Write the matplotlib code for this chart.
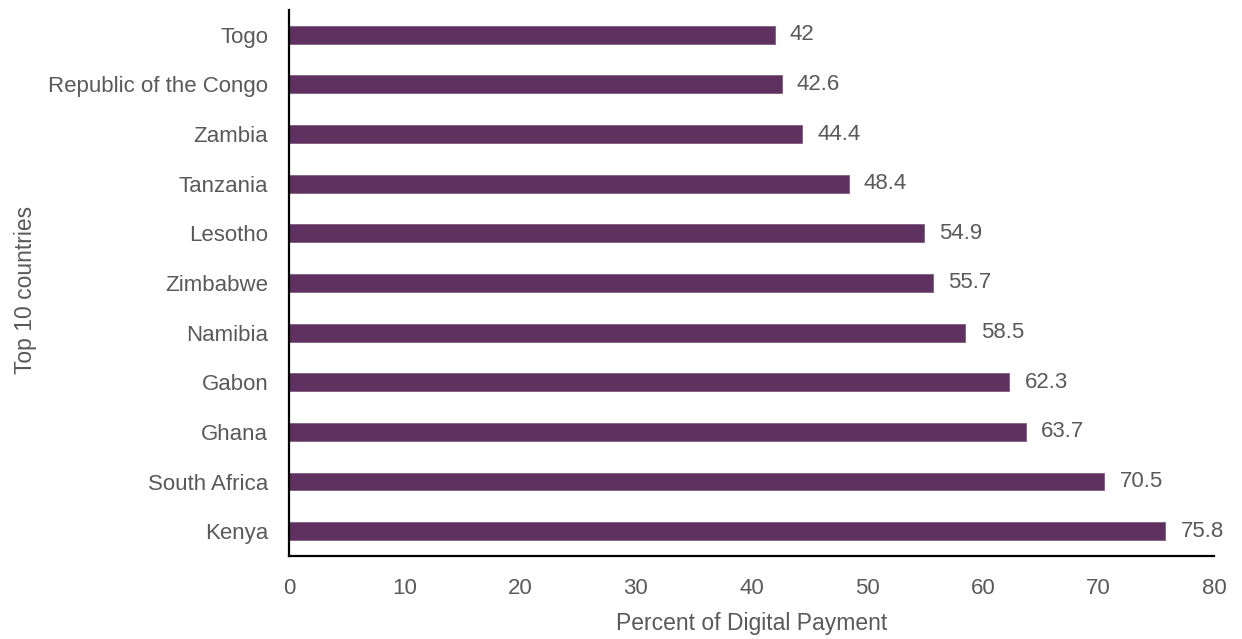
import matplotlib
matplotlib.use("Agg")
import matplotlib.pyplot as plt

countries = ["Kenya", "South Africa", "Ghana", "Gabon", "Namibia", "Zimbabwe",
             "Lesotho", "Tanzania", "Zambia", "Republic of the Congo", "Togo"]
values = [75.8, 70.5, 63.7, 62.3, 58.5, 55.7, 54.9, 48.4, 44.4, 42.6, 42]
x_ticks = [0, 10, 20, 30, 40, 50, 60, 70, 80]

text_color = "#595959"
bar_color = "#5E3160"

plt.rcParams["font.family"] = ["Liberation Sans", "DejaVu Sans"]

fig = plt.figure(figsize=(12.42, 6.39), dpi=100)
ax = fig.add_axes([0.2327, 0.1299, 0.7448, 0.8545])

bars = ax.barh(countries, values, height=0.36, color=bar_color,
               edgecolor="#7d5f7f", linewidth=0.6)
ax.bar_label(bars, labels=[f"{v:g}" for v in values], padding=11,
             fontsize=16, color=text_color)

ax.set_xlim(0, 80)
ax.set_ylim(-0.5, len(countries) - 0.5)
ax.set_xticks(x_ticks)
ax.tick_params(axis="both", length=0, labelsize=16, colors=text_color)
ax.tick_params(axis="x", pad=16)
ax.tick_params(axis="y", pad=15)

for side in ("top", "right"):
    ax.spines[side].set_visible(False)
for side in ("left", "bottom"):
    ax.spines[side].set_linewidth(1.6)
    ax.spines[side].set_color("black")

ax.set_xlabel("Percent of Digital Payment", fontsize=16.5, color=text_color, labelpad=9)
ax.set_ylabel("Top 10 countries", fontsize=16.5, color=text_color, labelpad=8)
ax.yaxis.label.set_y(0.487)

fig.savefig("out.png", dpi=100)
